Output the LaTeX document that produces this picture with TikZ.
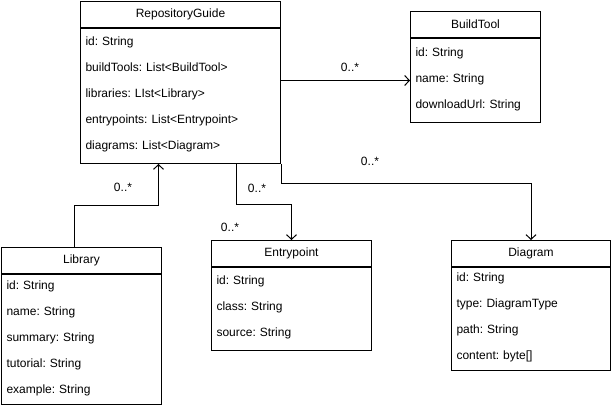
\documentclass[tikz,border=0pt]{standalone}
\usepackage{fontspec}
\setmainfont{Liberation Sans}
\frenchspacing
\usetikzlibrary{positioning,arrows.meta}

\begin{document}
\begin{tikzpicture}[x=0.75pt,y=-0.75pt]
   \tikzstyle{every node}=[font=\fontsize{9}{19.5}\selectfont]
   \tikzstyle{head}=[draw, line width=0.75pt, anchor=north west, minimum height=19.5pt, inner sep=0pt]
   \tikzstyle{attrs}=[draw, line width=0.75pt, align=left, inner xsep=3.75pt, inner ysep=0pt,
                      execute at end node={\rule[-4pt]{0pt}{4pt}}]
   \tikzstyle{assoc}=[line width=0.75pt, -{Straight Barb[length=3.5pt,width=7.5pt]}]

\useasboundingbox (0,0) rectangle (611,407);

% classes
\node[head, minimum width=150pt] (rg) at (80,1) {RepositoryGuide};
\node[attrs, below=0pt of rg, text width=142.5pt, minimum height=101.25pt] (rg-attrs)
    {id: String\\ buildTools: List<BuildTool>\\ libraries: LIst<Library>\\
     entrypoints: List<Entrypoint>\\ diagrams: List<Diagram>};

\node[head, minimum width=97.5pt] (bt) at (410,11) {BuildTool};
\node[attrs, below=0pt of bt, text width=90pt, minimum height=63pt] (bt-attrs)
    {id: String\\ name: String\\ downloadUrl: String};

\node[head, minimum width=120pt] (lib) at (1,247) {Library};
\node[attrs, below=0pt of lib, text width=112.5pt, minimum height=97.5pt] (lib-attrs)
    {id: String\\ name: String\\ summary: String\\ tutorial: String\\ example: String};

\node[head, minimum width=120pt] (ep) at (211,240) {Entrypoint};
\node[attrs, below=0pt of ep, text width=112.5pt, minimum height=62.25pt] (ep-attrs)
    {id: String\\ class: String\\ source: String};

\node[head, minimum width=119.25pt] (dia) at (451,240) {Diagram};
\node[attrs, below=0pt of dia, text width=111.75pt, minimum height=77.25pt] (dia-attrs)
    {id: String\\ type: DiagramType\\ path: String\\ content: byte[]};

% associations
\draw[assoc] (rg-attrs.east |- bt-attrs.west) -- (bt-attrs.west);
\draw[assoc] ([xshift=-5.25pt]lib.north) -- ++(0,-42) -| ([xshift=-16.5pt]rg-attrs.south);
\draw[assoc] ([xshift=42pt]rg-attrs.south) -- ++(0,40) -| (ep.north);
\draw[assoc] (rg-attrs.south east) -- ++(0,19) -| (dia.north);

% multiplicities
\node (bt-mult) at (350,67) {0..*};
\node (lib-mult) at (123,187) {0..*};
\node (ep-mult) at (257,188) {0..*};
\node (ep-mult2) at (230,227) {0..*};
\node (dia-mult) at (370,161) {0..*};

\end{tikzpicture}
\end{document}
